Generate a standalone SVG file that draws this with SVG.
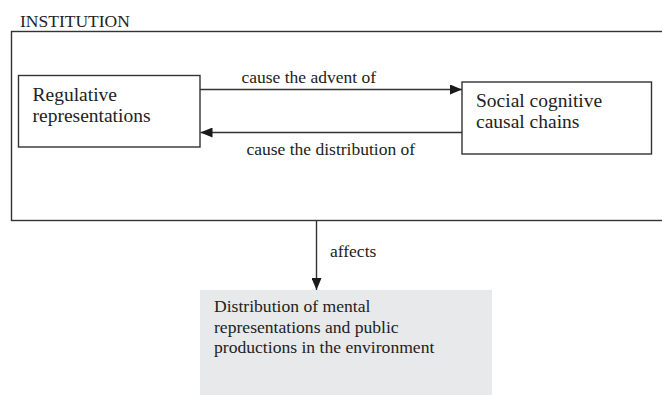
<svg xmlns="http://www.w3.org/2000/svg" width="662" height="395" viewBox="0 0 662 395">
  <defs>
    <style>
      .frame { fill: none; stroke: #333333; stroke-width: 1.4; }
      .box { fill: #ffffff; stroke: #333333; stroke-width: 1.4; }
      .gray { fill: #e8e9eb; stroke: none; }
      .conn { stroke: #333333; stroke-width: 1.4; fill: none; }
      text { fill: #222222; }
      .lbl { font-size: 17.5px; }
      .node { font-size: 19.5px; }
      .gtxt { font-size: 17.6px; }
    </style>
    <marker id="arrow" viewBox="0 0 12 10" refX="12" refY="5" markerWidth="12" markerHeight="10" markerUnits="userSpaceOnUse" orient="auto">
      <path d="M0,0 L12,5 L0,10 Z" fill="#1a1a1a"/>
    </marker>
  </defs>

  <g font-family="Liberation Serif, Times New Roman, DejaVu Serif, serif">
  <g id="institution">
    <rect class="frame" x="11.5" y="31.5" width="653" height="189"/>
    <text class="lbl" x="20" y="27">INSTITUTION</text>
  </g>

  <g id="regulative">
    <rect class="box" x="18.5" y="75.5" width="181.5" height="71.5"/>
    <text class="node" x="32.5" y="101">Regulative</text>
    <text class="node" x="32.5" y="122">representations</text>
  </g>

  <g id="social">
    <rect class="box" x="462" y="82" width="189.5" height="72"/>
    <text class="node" x="476" y="107">Social cognitive</text>
    <text class="node" x="476" y="128">causal chains</text>
  </g>

  <g id="distribution">
    <rect class="gray" x="200" y="290" width="292" height="105"/>
    <text class="gtxt" x="214" y="312">Distribution of mental</text>
    <text class="gtxt" x="214" y="332.5">representations and public</text>
    <text class="gtxt" x="214" y="353">productions in the environment</text>
  </g>

  <g id="connectors">
    <line class="conn" x1="200" y1="89.5" x2="462" y2="89.5" marker-end="url(#arrow)"/>
    <text class="lbl" x="241.5" y="83">cause the advent of</text>
    <line class="conn" x1="462" y1="132.5" x2="200.5" y2="132.5" marker-end="url(#arrow)"/>
    <text class="lbl" x="246.5" y="155">cause the distribution of</text>
    <line class="conn" x1="316.5" y1="220.5" x2="316.5" y2="290" marker-end="url(#arrow)"/>
    <text class="lbl" x="330" y="257">affects</text>
  </g>
  </g>
</svg>
